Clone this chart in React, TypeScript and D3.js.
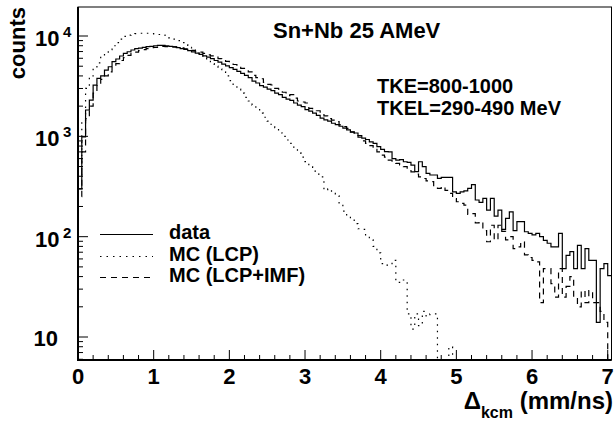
import React from "react";
import * as d3 from "d3";

// histogram bin width (mm/ns)
const binWidth = 0.05;

// measured data (solid)
const dataCounts = [
  300, 990, 1830, 2300, 3240, 3785, 4000, 4580, 4940, 5550,
  5900, 6320, 6720, 6970, 7250, 7470, 7590, 7710, 7830, 7890,
  8000, 8080, 8080, 8000, 7900, 7800, 7650, 7500, 7350, 7150,
  6950, 6750, 6550, 6350, 6150, 5950, 5700, 5500, 5250, 5050,
  4850, 4650, 4450, 4250, 4050, 3850, 3550, 3400, 3200, 3100,
  2950, 2850, 2700, 2600, 2450, 2350, 2280, 2150, 2050, 1980,
  1850, 1780, 1700, 1620, 1520, 1460, 1420, 1350, 1310, 1260,
  1210, 1160, 1110, 1080, 1020, 960, 930, 880, 850, 790,
  740, 705, 700, 600, 580, 585, 558, 550, 517, 444,
  558, 498, 428, 412, 412, 381, 390, 390, 390, 280,
  270, 280, 286, 303, 330, 232, 220, 241, 184, 241,
  160, 184, 118, 152, 177, 115, 141, 141, 112, 108,
  104, 108, 100, 92, 86, 79, 79, 108, 48, 65,
  71, 48, 82, 48, 76, 58, 58, 14, 48, 54,
  41,
];

// MC (LCP) - dotted
const mcLcp = [
  400, 1400, 3000, 4000, 4800, 5400, 6300, 6900, 7300, 8000,
  8600, 9300, 9900, 10200, 10450, 10550, 10650, 10700, 10650, 10550,
  10500, 10350, 10200, 9900, 9600, 9300, 9000, 8600, 8200, 7700,
  7250, 6900, 6550, 6200, 5700, 5300, 5000, 4700, 4400, 4000,
  3600, 3200, 2950, 2700, 2450, 2250, 2050, 1850, 1700, 1550,
  1420, 1320, 1220, 1080, 1000, 920, 850, 780, 680, 620,
  560, 500, 450, 420, 395, 290, 300, 270, 255, 210,
  180, 158, 150, 135, 120, 118, 100, 93, 80, 69,
  54, 52, 53, 58, 35, 37, 37, 17, 12, 17,
  13, 18, 16, 17, 17, 0, 0, 0, 8, 0,
  0, 0, 0, 0, 0, 0, 0, 0, 0, 0,
  0, 0, 0, 0, 0, 0, 0, 0, 0, 0,
  0, 0, 0, 0, 0, 0, 0, 0, 0, 0,
  0, 0, 0, 0, 0, 0, 0, 0, 0, 0,
  0,
];

// MC (LCP+IMF) - dashed
const mcLcpImf = [
  250, 700, 1500, 2000, 2700, 3200, 3700, 4000, 4400, 4900,
  5300, 5700, 6100, 6400, 6700, 6900, 7150, 7300, 7500, 7650,
  7700, 7750, 7900, 7850, 7850, 7800, 7700, 7600, 7450, 7350,
  7200, 7050, 6900, 6700, 6500, 6350, 6150, 5950, 5800, 5600,
  5450, 5200, 4950, 4750, 4600, 4400, 4050, 3850, 3750, 3450,
  3300, 3250, 3000, 2950, 2750, 2550, 2600, 2400, 2250, 2200,
  2150, 1900, 1850, 1800, 1650, 1600, 1500, 1450, 1400, 1300,
  1250, 1200, 1100, 1050, 980, 900, 850, 810, 740, 700,
  650, 620, 580, 550, 537, 520, 500, 470, 443, 420,
  395, 380, 360, 354, 310, 303, 315, 290, 270, 240,
  223, 215, 206, 167, 170, 137, 141, 115, 89, 130,
  93, 130, 113, 93, 100, 76, 79, 89, 66, 62,
  58, 56, 22, 48, 48, 34, 25, 48, 25, 32,
  40, 25, 20, 29, 22, 29, 22, 22, 18, 14,
  0,
];

const xTickLabels = ["0", "1", "2", "3", "4", "5", "6", "7"];
const yDecadeExp = [1, 2, 3, 4];

const legendItems = [
  { label: "data", dash: "none" },
  { label: "MC (LCP)", dash: "1.5 5" },
  { label: "MC (LCP+IMF)", dash: "6 5" },
];

const W = 615;
const H = 426;
const left = 78;
const right = 611.5;
const top = 7;
const bottom = 360;
const font = "'Liberation Sans', Arial, Helvetica, sans-serif";

const x = d3.scaleLinear().domain([0, 7.05]).range([left, right]);
const y = d3.scaleLog().domain([5.9, 19460]).range([bottom, top]);

const yv = (v: number) => (v > 0 ? y(v) : bottom + 20);

function histPath(values: number[]) {
  const pts: [number, number][] = [[x(0), bottom + 20]];
  values.forEach((v, i) => pts.push([x(i * binWidth), yv(v)]));
  pts.push([x(values.length * binWidth), yv(values[values.length - 1])]);
  return d3.line().curve(d3.curveStepAfter)(pts) || "";
}

export default function App() {
  const yTicks = y.ticks();
  const xMinor = d3.range(0, 36).map((i) => +(i * 0.2).toFixed(2));

  return (
    <svg
      width={W}
      height={H}
      style={{ position: "absolute", left: 0, top: 0, background: "#fff" }}
      fontFamily={font}
      fontWeight="bold"
    >
      <defs>
        <clipPath id="frame">
          <rect x={left} y={top} width={right - left} height={bottom - top} />
        </clipPath>
      </defs>
      <rect width={W} height={H} fill="#fff" />

      {/* histograms */}
      <g clipPath="url(#frame)" fill="none" stroke="#000" strokeWidth={1.2}>
        <path d={histPath(mcLcp)} strokeDasharray="1.5 5" />
        <path d={histPath(mcLcpImf)} strokeDasharray="6 5" />
        <path d={histPath(dataCounts)} />
      </g>

      {/* frame */}
      <rect x={left} y={top} width={right - left} height={bottom - top} fill="none" stroke="#000" strokeWidth={1} />
      <line x1={left} x2={left} y1={top} y2={bottom + 1} stroke="#000" strokeWidth={2} />
      <line x1={left - 1} x2={right} y1={bottom} y2={bottom} stroke="#000" strokeWidth={2} />

      {/* x ticks */}
      {xMinor.map((t) => {
        const major = Math.abs(t - Math.round(t)) < 1e-6;
        return (
          <line key={"xt" + t} x1={x(t)} x2={x(t)} y1={bottom} y2={bottom - (major ? 10 : 5)} stroke="#000" strokeWidth={1} />
        );
      })}
      {xTickLabels.map((l, i) => (
        <text key={"xl" + l} x={x(i)} y={384} textAnchor="middle" fontSize={22}>
          {l}
        </text>
      ))}

      {/* y ticks */}
      {yTicks.map((t) => {
        const major = Math.abs(Math.log10(t) - Math.round(Math.log10(t))) < 1e-6;
        return (
          <line key={"yt" + t} x1={left} x2={left + (major ? 10 : 5)} y1={y(t)} y2={y(t)} stroke="#000" strokeWidth={1} />
        );
      })}
      {yDecadeExp.map((e) =>
        e === 1 ? (
          <text key={"yl" + e} x={58} y={y(10) + 9} textAnchor="end" fontSize={22}>
            10
          </text>
        ) : (
          <g key={"yl" + e}>
            <text x={35} y={y(Math.pow(10, e)) + 10} fontSize={22}>
              10
            </text>
            <text x={63} y={y(Math.pow(10, e)) + 1} fontSize={15}>
              {e}
            </text>
          </g>
        )
      )}

      {/* axis titles */}
      <text transform="translate(25,7) rotate(-90)" textAnchor="end" fontSize={22}>
        counts
      </text>
      <text x={613} y={409} textAnchor="end" fontSize={24}>
        <tspan>Δ</tspan>
        <tspan fontSize={16} dy={9}>kcm</tspan>
        <tspan dy={-9}> (mm/ns)</tspan>
      </text>

      {/* annotations */}
      <text x={273} y={38} fontSize={22}>Sn+Nb 25 AMeV</text>
      <text x={377} y={93} fontSize={20}>TKE=800-1000</text>
      <text x={377} y={115} fontSize={20}>TKEL=290-490 MeV</text>

      {/* legend */}
      {legendItems.map((it, i) => {
        const ly = [234.5, 256.5, 277.5][i];
        return (
          <g key={it.label}>
            <line x1={100} x2={153} y1={ly} y2={ly} stroke="#000" strokeWidth={1.2} strokeDasharray={it.dash} />
            <text x={169} y={ly + 4.5} fontSize={20}>
              {it.label}
            </text>
          </g>
        );
      })}
    </svg>
  );
}
